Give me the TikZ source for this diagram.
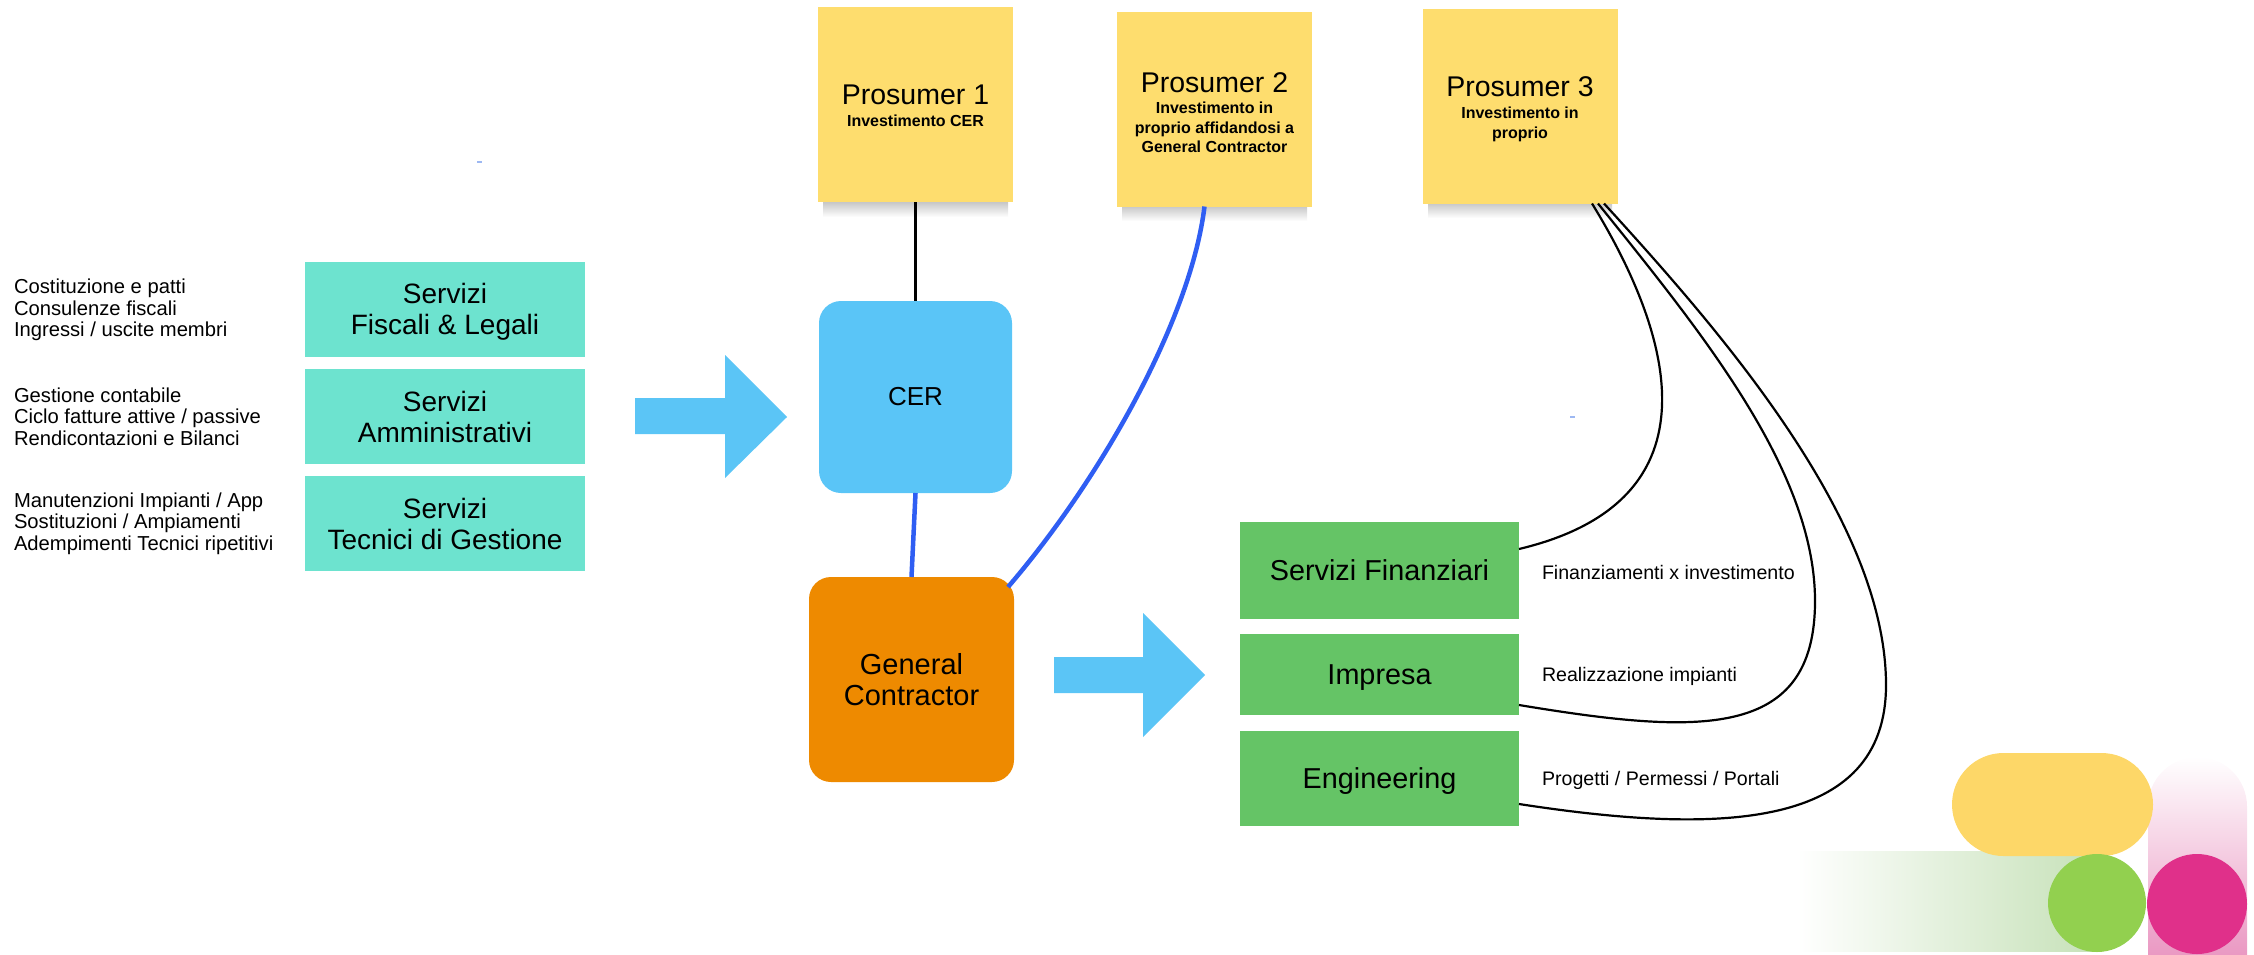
\documentclass[tikz,border=0pt]{standalone}
\usepackage{fontspec}
\setmainfont{Liberation Sans}
\usetikzlibrary{calc}
\definecolor{tealbox}{HTML}{6DE3CF}
\definecolor{cerblue}{HTML}{5AC5F7}
\definecolor{arrowblue}{HTML}{5BC5F6}
\definecolor{gcorange}{HTML}{EE8A00}
\definecolor{greenbox}{HTML}{65C466}
\definecolor{stickyY}{HTML}{FEDD6E}
\definecolor{lineblue}{HTML}{2F5EF3}
\definecolor{pillY}{HTML}{FDD768}
\definecolor{circG}{HTML}{92D04F}
\definecolor{circM}{HTML}{E0308A}
\definecolor{pinkband}{HTML}{E47CB2}
\definecolor{greenband}{HTML}{C6E1B8}
\definecolor{dashblue}{HTML}{9DB8F2}
\begin{document}
\begin{tikzpicture}[x=1pt,y=-1pt,
  base/.style={inner sep=0pt, outer sep=0pt},
  servbox/.style={base, fill=tealbox, minimum width=280, minimum height=95, align=center, text depth=0pt, font=\fontsize{28}{31}\selectfont},
  listtext/.style={base, anchor=west, align=left, font=\fontsize{20.2}{21.5}\selectfont},
  sticky/.style={base, fill=stickyY, minimum width=195, minimum height=195},
  ptitle/.style={base, font=\fontsize{28.5}{30}\selectfont},
  psub/.style={base, align=center, font=\bfseries\fontsize{16}{19.5}\selectfont},
  stickyshadow/.style={top color=black!28, bottom color=white, draw=none},
  bigarrow/.style={fill=arrowblue, draw=none},
  greenrect/.style={base, fill=greenbox, minimum width=279, text depth=0pt, font=\fontsize{28.8}{30}\selectfont},
  sidelabel/.style={base, anchor=west, font=\fontsize{19.6}{21}\selectfont},
  curve/.style={draw=black, line width=2.2pt},
  bluelink/.style={draw=lineblue, line width=4.5pt},
]
\useasboundingbox (0,0) rectangle (2254,954);

% ---------- left services ----------
\node[servbox] (fl) at (445,309) {Servizi\\Fiscali \& Legali};
\node[servbox] (am) at (445,416.5) {Servizi\\Amministrativi};
\node[servbox] (tg) at (445,523.5) {Servizi\\Tecnici di Gestione};
\node[listtext] (l1) at (14,310) {Costituzione e patti\\Consulenze fiscali\\Ingressi / uscite membri};
\node[listtext] (l2) at (14,416.5) {Gestione contabile\\Ciclo fatture attive / passive\\Rendicontazioni e Bilanci};
\node[listtext] (l3) at (14,523.5) {Manutenzioni Impianti / App\\Sostituzioni / Ampiamenti\\Adempimenti Tecnici ripetitivi};

% ---------- block arrows ----------
\fill[bigarrow] (635,398) -- (725,398) -- (725,355) -- (787,417) -- (725,478) -- (725,434) -- (635,434) -- cycle;
\fill[bigarrow] (1054,657) -- (1143,657) -- (1143,613) -- (1205,675) -- (1143,737) -- (1143,693) -- (1054,693) -- cycle;

% ---------- sticky notes ----------
\shade[stickyshadow] (823,198) rectangle (1008,217);
\shade[stickyshadow] (1122,202) rectangle (1307,221);
\shade[stickyshadow] (1428,199) rectangle (1612,218);
\node[sticky] (p1) at (915.5,104.5) {};
\node[sticky] (p2) at (1214.5,109) {};
\node[sticky] (p3) at (1520,106) {};
\node[ptitle] (p1t) at (915.5,95) {Prosumer 1};
\node[psub] (p1s) at (915.5,121) {Investimento CER};
\node[ptitle] (p2t) at (1214.5,83) {Prosumer 2};
\node[psub] (p2s) at (1214.5,127.5) {Investimento in\\proprio affidandosi a\\General Contractor};
\node[ptitle] (p3t) at (1520,87) {Prosumer 3};
\node[psub] (p3s) at (1520,124.5) {Investimento in\\proprio};

% ---------- CER and General Contractor ----------
\node[base, fill=cerblue, rounded corners=22pt, minimum width=193, minimum height=192, font=\fontsize{26}{28}\selectfont] (cer) at (915.5,397) {CER};
\node[base, fill=gcorange, rounded corners=22pt, minimum width=205, minimum height=205, align=center, font=\fontsize{29}{31}\selectfont] (gc) at (911.5,679.5) {General\\Contractor};

% ---------- right services ----------
\node[greenrect, minimum height=97] (sf) at (1379.5,570.5) {Servizi Finanziari};
\node[greenrect, minimum height=81] (imp) at (1379.5,674.5) {Impresa};
\node[greenrect, minimum height=95] (eng) at (1379.5,778.5) {Engineering};
\node[sidelabel] (sfl) at (1542,572) {Finanziamenti x investimento};
\node[sidelabel] (impl) at (1542,676) {Realizzazione impianti};
\node[sidelabel] (engl) at (1542,780) {Progetti / Permessi / Portali};

% ---------- connectors ----------
\draw[draw=black, line width=3pt] (p1.south) -- (cer.north);
\draw[bluelink] (cer.south) -- (gc.north);
\draw[bluelink] ($(p2.south)+(-10,0)$) .. controls +(-14,114) and +(92,-107) .. ($(gc.north east)+(-6,10)$);

\coordinate (m2) at (1815,601);
\coordinate (m3) at (1886,685);
\draw[curve] ($(p3.south)+(72,0)$) .. controls +(78,127) and +(206,-49) .. ($(sf.east)+(0,-21.5)$);
\draw[curve] ($(p3.south)+(78,0)$) .. controls +(102,127) and +(0,-131) .. (m2)
  .. controls +(0,139) and +(181,30) .. ($(imp.east)+(0,30.5)$);
\draw[curve] ($(p3.south)+(84,0)$) .. controls +(116,127) and +(0,-165) .. (m3)
  .. controls +(0,145) and +(201,31) .. ($(eng.east)+(0,25.5)$);

% ---------- tiny marks ----------
\draw[draw=dashblue, line width=1.5pt] (477,162) -- (482,162);
\draw[draw=dashblue, line width=1.5pt] (1570,417) -- (1575,417);

% ---------- decoration bottom right ----------
\shade[left color=white, right color=greenband] (1797,851) rectangle (2100,951);
\shade[top color=white, bottom color=pinkband, rounded corners=49.5pt] (2148,757) rectangle (2247,1010);
\fill[pillY, rounded corners=51.5pt] (1952,753) rectangle (2153,856);
\fill[circG] (2097,903) circle (49pt);
\fill[circM] (2197,904) circle (50pt);
\end{tikzpicture}
\end{document}
